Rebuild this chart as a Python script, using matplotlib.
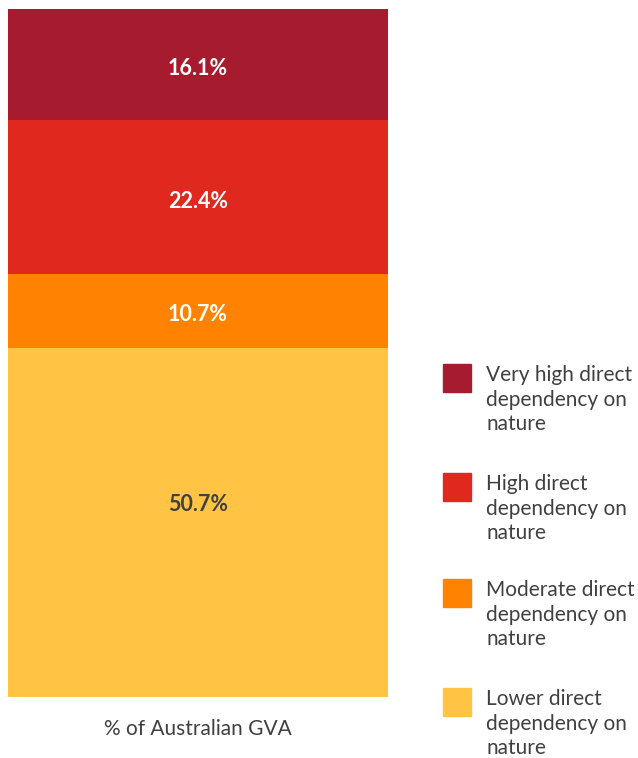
import matplotlib
matplotlib.use("Agg")
import matplotlib.pyplot as plt
from matplotlib.patches import Rectangle

plt.rcParams['font.family'] = ['Lato', 'DejaVu Sans']

categories = [["Very high direct", "dependency on", "nature"],
              ["High direct", "dependency on", "nature"],
              ["Moderate direct", "dependency on", "nature"],
              ["Lower direct", "dependency on", "nature"]]
values = [16.1, 22.4, 10.7, 50.7]
value_labels = ["16.1%", "22.4%", "10.7%", "50.7%"]
colors = ["#A61B2D", "#E0281E", "#FF8300", "#FFC444"]
label_colors = ["white", "white", "white", "#404040"]
label_offsets_pt = [-2.9, -2.9, -2.2, 12.6]
xlabel = "% of Australian GVA"

W, H = 638, 758
fig = plt.figure(figsize=(W/100, H/100), dpi=100)
ax = fig.add_axes([8/W, (H-697)/H, 380/W, 688/H])

total = sum(values)
top = total
for v, c, lab, lc, off in zip(values, colors, value_labels, label_colors, label_offsets_pt):
    bottom = top - v
    ax.bar(0, v, bottom=bottom, width=1.0, color=c, edgecolor='none')
    ax.annotate(lab, (0, bottom + v/2), xytext=(0, off), textcoords='offset points',
                ha='center', va='center', color=lc, fontsize=15.5, fontweight='bold')
    top = bottom

ax.set_xlim(-0.5, 0.5)
ax.set_ylim(0, total)
ax.axis('off')

fig.text(198/W, 1 - 729/H, xlabel, ha='center', va='center', fontsize=15, color='#404040')

# legend
sq_top = [364, 473, 579, 688]
for y0, c, lines in zip(sq_top, colors, categories):
    fig.patches.append(Rectangle((443/W, 1 - (y0+28)/H), 28/W, 28/H,
                                 transform=fig.transFigure, color=c))
    for i, line in enumerate(lines):
        fig.text(486/W, 1 - (y0 + 17 + i*24.6)/H, line, ha='left', va='baseline',
                 fontsize=15, color='#404040')

fig.savefig("out.png", dpi=100)
